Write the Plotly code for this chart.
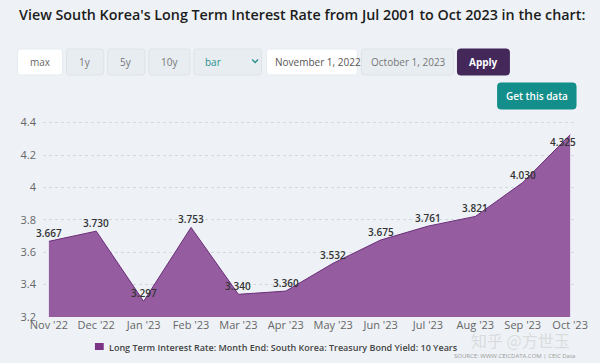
import plotly.graph_objects as go

# ---- data ----
months = ["Nov '22", "Dec '22", "Jan '23", "Feb '23", "Mar '23", "Apr '23",
          "May '23", "Jun '23", "Jul '23", "Aug '23", "Sep '23", "Oct '23"]
rates = [3.667, 3.730, 3.297, 3.753, 3.340, 3.360,
         3.532, 3.675, 3.761, 3.821, 4.030, 4.325]
y_ticks = [3.2, 3.4, 3.6, 3.8, 4.0, 4.2, 4.4]
y_tick_labels = ["3.2", "3.4", "3.6", "3.8", "4", "4.2", "4.4"]
series_name = "Long Term Interest Rate: Month End: South Korea: Treasury Bond Yield: 10 Years"
title_text = "View South Korea's Long Term Interest Rate from Jul 2001 to Oct 2023 in the chart:"

# ---- geometry ----
W, H = 600, 363
ML, MR, MT, MB = 43, 12, 121, 46
PW, PH = W - ML - MR, H - MT - MB


def px(x):
    return (x - ML) / PW


def py(y):
    return (H - MB - y) / PH


def P(a, b):
    return f"{px(a):.5f},{py(b):.5f}"


def rrect(x0, y0, x1, y1, r=3):
    return (f"M {P(x0 + r, y0)} L {P(x1 - r, y0)} Q {P(x1, y0)} {P(x1, y0 + r)} "
            f"L {P(x1, y1 - r)} Q {P(x1, y1)} {P(x1 - r, y1)} "
            f"L {P(x0 + r, y1)} Q {P(x0, y1)} {P(x0, y1 - r)} "
            f"L {P(x0, y0 + r)} Q {P(x0, y0)} {P(x0 + r, y0)} Z")


BG = "#eef2f6"
FONT = "Open Sans"
xs = list(range(len(months)))

fig = go.Figure()
fig.add_trace(go.Scatter(
    x=xs, y=rates, mode="lines", fill="tozeroy",
    line=dict(color="#6a2f78", width=1),
    fillcolor="#955ca0", name=series_name, showlegend=False,
    hoverinfo="skip",
))

annotations = []
# data labels
for i, v in enumerate(rates):
    last = i == len(rates) - 1
    annotations.append(dict(
        x=xs[i], y=v, xref="x", yref="y", text=f"{v:.3f}", showarrow=False,
        font=dict(family=FONT, size=10, color="#333333", weight=600),
        xanchor="center", yanchor="middle",
        xshift=-7 if last else 0, yshift=-7 if last else 8,
    ))

shapes = []


def button(x0, y0, x1, y1, fill, line, text, tcolor, weight=400, align="center", tx=None, size=10):
    shapes.append(dict(type="path", path=rrect(x0, y0, x1, y1), xref="paper", yref="paper",
                       fillcolor=fill, line=dict(color=line, width=1), layer="above"))
    if text:
        if align == "center":
            annotations.append(dict(x=px((x0 + x1) / 2), y=py((y0 + y1) / 2), xref="paper", yref="paper",
                                    text=text, showarrow=False, xanchor="center", yanchor="middle",
                                    font=dict(family=FONT, size=size, color=tcolor, weight=weight)))
        else:
            annotations.append(dict(x=px(tx), y=py((y0 + y1) / 2), xref="paper", yref="paper",
                                    text=text, showarrow=False, xanchor="left", yanchor="middle",
                                    font=dict(family=FONT, size=size, color=tcolor, weight=weight)))


GREY = "#e8edf2"
GREYL = "#dde3e9"
button(17, 49, 63, 75, "#ffffff", "#e6ebf0", "max", "#666666")
button(67, 49, 105, 75, GREY, GREYL, "1y", "#777777")
button(109, 49, 147, 75, GREY, GREYL, "5y", "#777777")
button(151, 49, 193, 75, GREY, GREYL, "10y", "#777777")
button(197, 49, 266, 75, GREY, GREYL, "bar", "#2a8f8c", align="left", tx=206)
# dropdown chevron
shapes.append(dict(type="path", path=f"M {P(256.5, 59.5)} L {P(259.5, 62.5)} L {P(262.5, 59.5)}",
                   xref="paper", yref="paper", line=dict(color="#2a8f8c", width=1.3), layer="above"))
button(271, 49, 364, 75, "#ffffff", "#e6ebf0", "November 1, 2022", "#555555", align="left", tx=278)
button(368, 49, 462, 75, GREY, GREYL, "October 1, 2023", "#777777", align="left", tx=376)
button(466, 49, 519, 75, "#44285a", "#44285a", "Apply", "#ffffff", weight=700)
button(507, 83, 587, 109, "#138e8b", "#138e8b", "Get this data", "#ffffff", weight=600)

# title
annotations.append(dict(x=px(16), y=py(14), xref="paper", yref="paper", text=title_text,
                        showarrow=False, xanchor="left", yanchor="middle",
                        font=dict(family=FONT, size=14.3, color="#1c1c1c", weight=600)))

# legend (manual)
shapes.append(dict(type="rect", xref="paper", yref="paper", x0=px(96), x1=px(105), y0=py(343), y1=py(350),
                   fillcolor="#7b3486", line=dict(width=0)))
annotations.append(dict(x=px(108), y=py(347), xref="paper", yref="paper", text=series_name,
                        showarrow=False, xanchor="left", yanchor="middle",
                        font=dict(family=FONT, size=9, color="#444444", weight=600)))
# watermark & source
annotations.append(dict(x=px(530), y=py(340), xref="paper", yref="paper", text="知乎 @方世玉",
                        showarrow=False, xanchor="center", yanchor="middle",
                        font=dict(family="Noto Sans CJK SC", size=16, color="rgba(200,200,200,0.55)")))
annotations.append(dict(x=px(588), y=py(356), xref="paper", yref="paper",
                        text="SOURCE: WWW.CEICDATA.COM | CEIC Data",
                        showarrow=False, xanchor="right", yanchor="middle",
                        font=dict(family=FONT, size=6, color="#999999")))

fig.update_layout(
    width=W, height=H, autosize=False,
    margin=dict(l=ML, r=MR, t=MT, b=MB, pad=0),
    paper_bgcolor=BG, plot_bgcolor=BG,
    showlegend=False, hovermode=False, dragmode=False,
    annotations=annotations, shapes=shapes,
    xaxis=dict(range=[-0.124, 11.145], tickvals=xs, ticktext=months, showgrid=False,
               zeroline=False, showline=False, ticks="", fixedrange=True,
               tickfont=dict(family=FONT, size=11, color="#666666")),
    yaxis=dict(range=[3.2, 4.41], tickvals=y_ticks, ticktext=y_tick_labels,
               showgrid=True, gridcolor="#d3d8de", griddash="dot", gridwidth=1,
               zeroline=False, showline=False, ticks="", ticklabelstandoff=6, fixedrange=True,
               tickfont=dict(family=FONT, size=11, color="#666666")),
)

fig.write_html("out.html", config={"displayModeBar": False, "staticPlot": True},
               post_script="document.body.style.margin='0';document.body.style.overflow='hidden';")
